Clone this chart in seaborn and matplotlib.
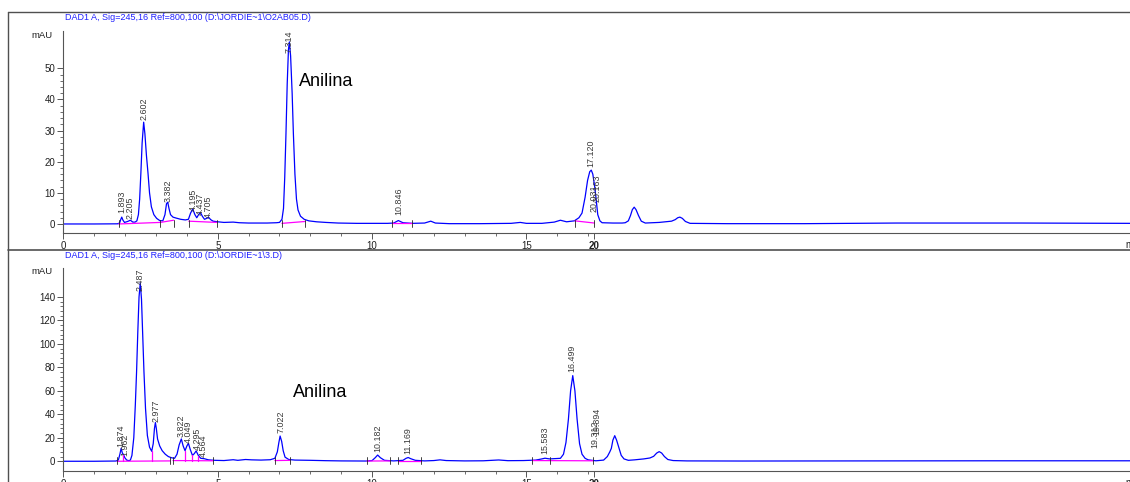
import pandas as pd
import seaborn as sns
import matplotlib.pyplot as plt
from matplotlib.lines import Line2D

# traces (time in min, signal in mAU)
top_time = [0.0, 1.0, 1.75, 1.82, 1.86, 1.89, 1.93, 1.98, 2.08, 2.17, 2.25, 2.32,
            2.38, 2.43, 2.47, 2.51, 2.55, 2.60, 2.64, 2.69, 2.74, 2.79, 2.85, 2.93,
            3.02, 3.12, 3.22, 3.29, 3.34, 3.38, 3.42, 3.47, 3.55, 3.65, 3.80, 3.95,
            4.05, 4.12, 4.19, 4.26, 4.32, 4.38, 4.44, 4.50, 4.57, 4.64, 4.70, 4.77,
            4.85, 5.00, 5.20, 5.50, 5.70, 6.00, 6.30, 6.60, 6.90, 7.00, 7.08, 7.13,
            7.17, 7.21, 7.25, 7.29, 7.32, 7.36, 7.41, 7.45, 7.50, 7.55, 7.60, 7.68,
            7.80, 7.95, 8.20, 8.50, 8.90, 9.50, 10.50, 10.70, 10.85, 11.00, 11.30, 11.70,
            11.90, 12.05, 12.50, 13.50, 14.50, 14.80, 15.00, 15.50, 15.90, 16.10, 16.30, 16.55,
            16.70, 16.80, 16.90, 16.98, 17.05, 17.10, 17.15, 17.21, 17.25, 17.31, 17.38, 17.45,
            17.80, 18.10, 18.20, 18.30, 18.37, 18.43, 18.49, 18.55, 18.63, 18.72, 18.85, 19.10,
            19.30, 19.50, 19.70, 19.82, 19.90, 19.97, 20.05, 20.15, 20.30, 21.50, 24.0, 27.0,
            31.0, 34.6]
top_mau = [0.0, 0.0, 0.05, 0.3, 1.5, 2.2, 1.2, 0.5, 0.8, 1.2, 0.6, 0.6,
           1.0, 3.0, 8.0, 16.4, 26.0, 32.7, 29.0, 22.0, 16.4, 10.0, 5.5, 3.0,
           1.8, 1.1, 1.0, 3.0, 6.5, 7.0, 5.0, 3.0, 2.2, 1.9, 1.5, 1.3,
           1.5, 3.5, 4.8, 3.0, 2.0, 3.0, 3.7, 2.5, 1.5, 1.8, 2.2, 1.4,
           0.9, 0.7, 0.5, 0.6, 0.4, 0.3, 0.3, 0.3, 0.4, 0.5, 1.5, 5.0,
           15.0, 29.0, 45.0, 56.0, 58.5, 54.0, 42.0, 29.0, 16.0, 8.0, 4.5, 2.5,
           1.5, 1.0, 0.7, 0.5, 0.3, 0.2, 0.2, 0.3, 1.1, 0.4, 0.2, 0.3,
           0.9, 0.3, 0.1, 0.1, 0.2, 0.5, 0.2, 0.2, 0.6, 1.2, 0.7, 1.0,
           2.0, 3.5, 8.6, 14.0, 16.8, 17.3, 16.0, 12.0, 8.6, 3.0, 1.0, 0.4,
           0.3, 0.3, 0.4, 1.0, 2.7, 4.6, 5.4, 4.6, 2.7, 0.9, 0.3, 0.4,
           0.5, 0.7, 0.9, 1.4, 2.0, 2.2, 1.8, 0.8, 0.2, 0.1, 0.1, 0.3,
           0.3, 0.2]

bot_time = [0.0, 1.0, 1.70, 1.78, 1.83, 1.87, 1.91, 1.95, 1.99, 2.05, 2.12, 2.17,
            2.22, 2.28, 2.33, 2.37, 2.41, 2.45, 2.49, 2.53, 2.57, 2.61, 2.66, 2.72,
            2.79, 2.86, 2.91, 2.95, 2.98, 3.01, 3.05, 3.12, 3.20, 3.30, 3.40, 3.50,
            3.60, 3.68, 3.75, 3.82, 3.88, 3.94, 4.00, 4.05, 4.11, 4.18, 4.24, 4.30,
            4.37, 4.45, 4.56, 4.70, 4.90, 5.20, 5.50, 5.65, 5.90, 6.10, 6.40, 6.70,
            6.85, 6.93, 6.98, 7.02, 7.07, 7.12, 7.18, 7.30, 7.50, 8.00, 8.50, 9.00,
            9.80, 10.00, 10.10, 10.18, 10.27, 10.40, 10.70, 11.00, 11.10, 11.17, 11.25, 11.40,
            11.70, 12.00, 12.20, 12.40, 13.00, 13.60, 14.10, 14.40, 14.90, 15.30, 15.50, 15.60,
            15.75, 15.95, 16.10, 16.20, 16.28, 16.36, 16.43, 16.50, 16.57, 16.64, 16.72, 16.80,
            16.90, 17.00, 17.25, 17.50, 17.62, 17.70, 17.75, 17.80, 17.86, 17.92, 18.00, 18.07,
            18.16, 18.30, 18.50, 18.80, 19.00, 19.12, 19.22, 19.30, 19.38, 19.47, 19.58, 19.75,
            20.20, 22.0, 26.0, 30.0, 34.6]
bot_mau = [0.0, 0.0, 0.2, 1.0, 6.0, 11.0, 7.0, 5.5, 3.0, 1.0, 0.5, 1.0,
           5.0, 20.0, 48.0, 76.0, 110.0, 140.0, 152.0, 138.0, 106.0, 76.0, 45.0, 22.0,
           12.0, 8.5, 15.0, 28.0, 33.0, 28.0, 19.0, 13.0, 9.0, 6.0, 4.0, 3.0,
           2.5, 6.0, 14.0, 19.0, 13.0, 9.0, 13.0, 15.3, 10.0, 5.0, 6.5, 8.8,
           5.0, 2.5, 2.2, 1.2, 0.8, 0.6, 1.3, 0.8, 1.5, 1.2, 1.0, 1.3,
           2.5, 8.0, 16.0, 21.5, 17.0, 9.0, 3.5, 1.5, 1.0, 0.8, 0.5, 0.3,
           0.2, 0.6, 3.0, 5.3, 3.0, 0.8, 0.3, 0.8, 2.5, 3.2, 2.2, 0.8,
           0.3, 0.6, 1.2, 0.6, 0.3, 0.4, 1.1, 0.5, 0.6, 1.0, 2.0, 2.6,
           2.0, 2.3, 2.5, 6.0, 16.0, 36.0, 60.0, 73.0, 60.0, 36.0, 15.0, 6.0,
           2.5, 1.2, 0.4, 1.0, 4.0, 8.0, 11.0, 18.0, 21.8, 18.0, 11.0, 5.0,
           2.0, 0.8, 1.2, 2.0, 2.8, 4.2, 7.0, 8.2, 7.0, 4.0, 1.5, 0.6,
           0.3, 0.2, 0.3, 0.4, 0.4]

# peak annotations
top_labels = ["1.893", "2.205", "2.602", "3.382", "4.195", "4.437", "4.705",
              "7.314", "10.846", "17.120", "20.031", "20.163"]
top_label_x = [1.90, 2.17, 2.60, 3.39, 4.22, 4.43, 4.70, 7.31, 10.85, 17.09, 17.19, 17.27]
top_label_y = [3.4, 1.5, 33.5, 7.1, 4.2, 2.9, 1.8, 54.9, 2.9, 18.3, 3.9, 7.1]

bot_labels = ["1.874", "1.962", "2.487", "2.977", "3.822", "4.049", "4.295", "4.564",
              "7.022", "10.182", "11.169", "15.583", "16.499", "19.312", "19.894"]
bot_label_x = [1.86, 1.99, 2.49, 3.00, 3.82, 4.06, 4.33, 4.54,
               7.04, 10.18, 11.17, 15.60, 16.47, 17.20, 17.27]
bot_label_y = [12.5, 4.5, 145.0, 33.7, 21.0, 15.3, 9.6, 3.9,
               23.8, 8.2, 6.2, 6.2, 76.3, 11.0, 22.0]

# integration baselines (start t, start y, end t, end y)
top_base = [(1.79, 0.0, 3.14, 0.5), (3.14, 0.5, 3.57, 1.2), (4.06, 0.9, 4.97, 0.5),
            (7.08, 0.2, 7.83, 0.8), (10.65, 0.2, 11.30, 0.2), (16.57, 1.0, 17.20, 0.3)]
bot_base = [(1.74, 0.0, 3.46, 0.3), (3.55, 0.6, 4.85, 0.4), (6.85, 0.6, 7.35, 0.8),
            (9.83, 0.2, 10.58, 0.3), (10.85, 0.3, 11.60, 0.3), (15.19, 0.6, 17.16, 0.4)]
bot_drops = [(1.93, 0.0, 5.5), (2.87, 0.1, 8.5), (3.95, 0.5, 9.0), (4.16, 0.5, 5.0), (4.37, 0.4, 4.8)]
top_marks = [1.79, 3.14, 3.57, 4.06, 4.97, 7.08, 7.83, 10.65, 11.30, 16.57, 17.20]
bot_marks = [1.74, 3.46, 3.55, 4.85, 6.85, 7.35, 9.83, 10.58, 10.85, 11.60, 15.19, 15.76, 17.16]

titles = ["DAD1 A, Sig=245,16 Ref=800,100 (D:\\JORDIE~1\\O2AB05.D)",
          "DAD1 A, Sig=245,16 Ref=800,100 (D:\\JORDIE~1\\3.D)"]

sns.set_theme(style='white')
plt.rcParams['font.family'] = ['Liberation Sans', 'DejaVu Sans']

W, H = 1130, 482
fig = plt.figure(figsize=(W / 100, H / 100), dpi=100)
fig.patch.set_facecolor('white')


def fx(px):
    return px / W


def fy(py):
    return 1 - py / H


x0 = 63.4
xmax = (W - x0) / 30.87

# frame lines
frame = '#505050'
fig.add_artist(Line2D([fx(8), 1], [fy(12), fy(12)], color=frame, lw=1))
fig.add_artist(Line2D([fx(8), 1], [fy(250), fy(250)], color=frame, lw=1.2))
fig.add_artist(Line2D([fx(8), fx(8)], [fy(12), 0], color=frame, lw=1))

panels = [
    dict(t=top_time, y=top_mau, ylim=(-2.9, 62.0), ybot=233, ytop=31, yticks=range(0, 51, 10),
         yminor=2, labels=top_labels, lx=top_label_x, ly=top_label_y, base=top_base,
         drops=[], marks=top_marks, anil=(7.64, 45.7), title=titles[0], tpy=18, mau=35),
    dict(t=bot_time, y=bot_mau, ylim=(-8.3, 164.7), ybot=471, ytop=268, yticks=range(0, 141, 20),
         yminor=4, labels=bot_labels, lx=bot_label_x, ly=bot_label_y, base=bot_base,
         drops=bot_drops, marks=bot_marks, anil=(7.44, 59.0), title=titles[1], tpy=256, mau=272),
]

for p in panels:
    ax = fig.add_axes([fx(x0), fy(p['ybot']), 1 - fx(x0), (p['ybot'] - p['ytop']) / H])
    ax.set_facecolor('none')
    df = pd.DataFrame({'time': p['t'], 'mAU': p['y']})
    sns.lineplot(data=df, x='time', y='mAU', ax=ax, color='#0000ff', linewidth=0.9,
                 sort=False, estimator=None)
    for t0, y0, t1, y1 in p['base']:
        ax.plot([t0, t1], [y0, y1], color='#ff00ff', lw=0.9, zorder=3)
    for t, y0, y1 in p['drops']:
        ax.plot([t, t], [y0, y1], color='#ff00ff', lw=0.9, zorder=3)
    span = p['ylim'][1] - p['ylim'][0]
    for t in p['marks']:
        ax.plot([t, t], [-0.015 * span, 0.02 * span], color='#222222', lw=0.6, zorder=4)
    for s, x, y in zip(p['labels'], p['lx'], p['ly']):
        ax.text(x, y, s, rotation=90, ha='center', va='bottom', fontsize=6.4,
                color='#3a3a3a', zorder=5)
    ax.text(p['anil'][0], p['anil'][1], 'Anilina', fontsize=13, color='black',
            ha='left', va='center')

    ax.set_xlim(0, xmax)
    ax.set_ylim(*p['ylim'])
    ax.set_xlabel('')
    ax.set_ylabel('')
    for side in ['top', 'right']:
        ax.spines[side].set_visible(False)
    for side in ['left', 'bottom']:
        ax.spines[side].set_color('#555555')
        ax.spines[side].set_linewidth(0.8)

    ax.set_xticks([0, 5, 10, 15, 17.19])
    ax.set_xticklabels(['0', '5', '10', '15', '20'])
    ax.get_xticklabels()[-1].set_fontweight('bold')
    ax.set_xticks([1, 2, 3, 4, 6, 7, 8, 9, 11, 12, 13, 14, 16, 17], minor=True)
    ax.set_yticks(list(p['yticks']))
    ax.set_yticks([v for v in range(0, p['yticks'][-1] + 1, p['yminor'])], minor=True)
    ax.tick_params(axis='both', which='major', direction='out', length=4, width=0.7,
                   color='#555555', labelsize=7, labelcolor='#202020', pad=2,
                   bottom=True, left=True)
    ax.tick_params(axis='both', which='minor', direction='out', length=2.2, width=0.6,
                   color='#555555', bottom=True, left=True)
    ax.grid(False)

    fig.text(fx(65), fy(p['tpy']), p['title'], fontsize=6.5, color='#2020ff',
             ha='left', va='center')
    fig.text(fx(53), fy(p['mau']), 'mAU', fontsize=6.8, color='#202020',
             ha='right', va='center')
    fig.text(fx(1125), fy(p['ybot'] + 12), 'min', fontsize=7, color='#202020',
             ha='left', va='center')

fig.savefig('out.png', dpi=100, facecolor='white')
